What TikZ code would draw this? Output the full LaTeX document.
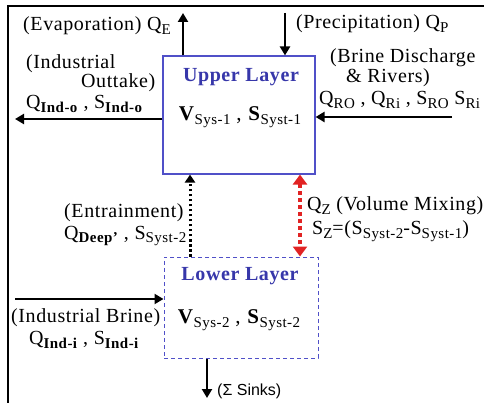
\documentclass[tikz,border=0pt]{standalone}
\usepackage{fontspec}
\setmainfont[LetterSpace=3]{Liberation Serif}
\setsansfont{Liberation Sans}
\usetikzlibrary{arrows.meta}
\definecolor{layerblue}{RGB}{55,55,170}
\definecolor{boxline}{RGB}{80,80,200}
\definecolor{mixred}{RGB}{225,35,35}
\newcommand{\sub}[1]{\raisebox{-3.5pt}{\fontsize{15}{15}\selectfont #1}}
\begin{document}
\begin{tikzpicture}[x=1pt,y=-1pt,
  every node/.style={font=\fontsize{20}{22}\selectfont,inner sep=0pt},
  layer/.style={draw=boxline,line width=1.1pt,minimum width=152pt,minimum height=118pt},
  flow/.style={line width=2.8pt,-{Triangle[length=9pt,width=10pt]}},
  lbl/.style={anchor=west},
  title/.style={font=\fontsize{20}{22}\selectfont\bfseries,text=layerblue},
  vars/.style={font=\fontsize{21}{23}\selectfont}]
% two-layer box model: upper and lower layer with in- and outflows
\useasboundingbox (0,0) rectangle (484,403);
\draw[line width=2.5pt] (484,6) -- (8,6) -- (8,403);
\node[layer] (upper) at (239,115) {};
\node[layer,line width=1pt,dash pattern=on 4pt off 3pt,minimum width=154pt,minimum height=101pt] (lower) at (241,307.5) {};
\node[title] (uptitle) at (241,77) {Upper Layer};
\node[vars] (upvars) at (240,117) {\textbf{V}\sub{Sys-1} , \textbf{S}\sub{Syst-1}};
\node[title] (lowtitle) at (240,276) {Lower Layer};
\node[vars] (lowvars) at (239,320) {\textbf{V}\sub{Sys-2} , \textbf{S}\sub{Syst-2}};
\coordinate (evapend) at (183,13);
\coordinate (precstart) at (285,13);
\coordinate (outend) at (15,119);
\coordinate (brinestart) at (452,117);
\coordinate (entx) at (190,0);
\coordinate (mixx) at (300,0);
\coordinate (ibstart) at (15,299);
\coordinate (sinkend) at (207,398);
\draw[flow] (upper.north -| evapend) -- (evapend);
\draw[flow] (precstart) -- (precstart |- upper.north);
\draw[flow] (outend -| upper.west) -- (outend);
\draw[flow] (brinestart) -- (brinestart -| upper.east);
\draw[flow] (ibstart) -- (ibstart -| lower.west);
\draw[flow] (sinkend |- lower.south) -- (sinkend);
\draw[line width=3pt,dash pattern=on 2.5pt off 2.5pt,-{Triangle[length=8pt,width=10pt]}] (entx |- lower.north) -- (entx |- upper.south);
\draw[mixred,line width=4pt,dash pattern=on 4pt off 3pt,{Triangle[length=10pt,width=14pt]}-{Triangle[length=10pt,width=14pt]}] (mixx |- upper.south) -- (mixx |- lower.north);
\node[lbl] (evaplbl) at (23,26) {(Evaporation) Q\sub{E}};
\node[lbl] (preclbl) at (296,24) {(Precipitation) Q\sub{P}};
\node[lbl] (outlblA) at (26,64) {(Industrial};
\node[lbl] (outlblB) at (81,83) {Outtake)};
\node[lbl] (outlblC) at (26,104) {Q\sub{\textbf{Ind-o}} , S\sub{\textbf{Ind-o}}};
\node[lbl] (brinelblA) at (330,58) {(Brine Discharge};
\node[lbl] (brinelblB) at (346,78) {\& Rivers)};
\node[lbl] (brinelblC) at (319,100) {Q\sub{RO} , Q\sub{Ri} , S\sub{RO} S\sub{Ri}};
\node[lbl] (entlblA) at (64,213) {(Entrainment)};
\node[lbl] (entlblB) at (64,236) {Q\sub{\textbf{Deep’}} , S\sub{Syst-2}};
\node[lbl] (mixlblA) at (307,206) {Q\sub{Z} (Volume Mixing)};
\node[lbl] (mixlblB) at (312,231) {S\sub{Z}=(S\sub{Syst-2}-S\sub{Syst-1})};
\node[lbl] (iblblA) at (11,318) {(Industrial Brine)};
\node[lbl] (iblblB) at (29,340) {Q\sub{\textbf{Ind-i}} , S\sub{\textbf{Ind-i}}};
\node[lbl,font=\sffamily\fontsize{16}{18}\selectfont] (sinklbl) at (217,391) {(Σ Sinks)};
\end{tikzpicture}
\end{document}
